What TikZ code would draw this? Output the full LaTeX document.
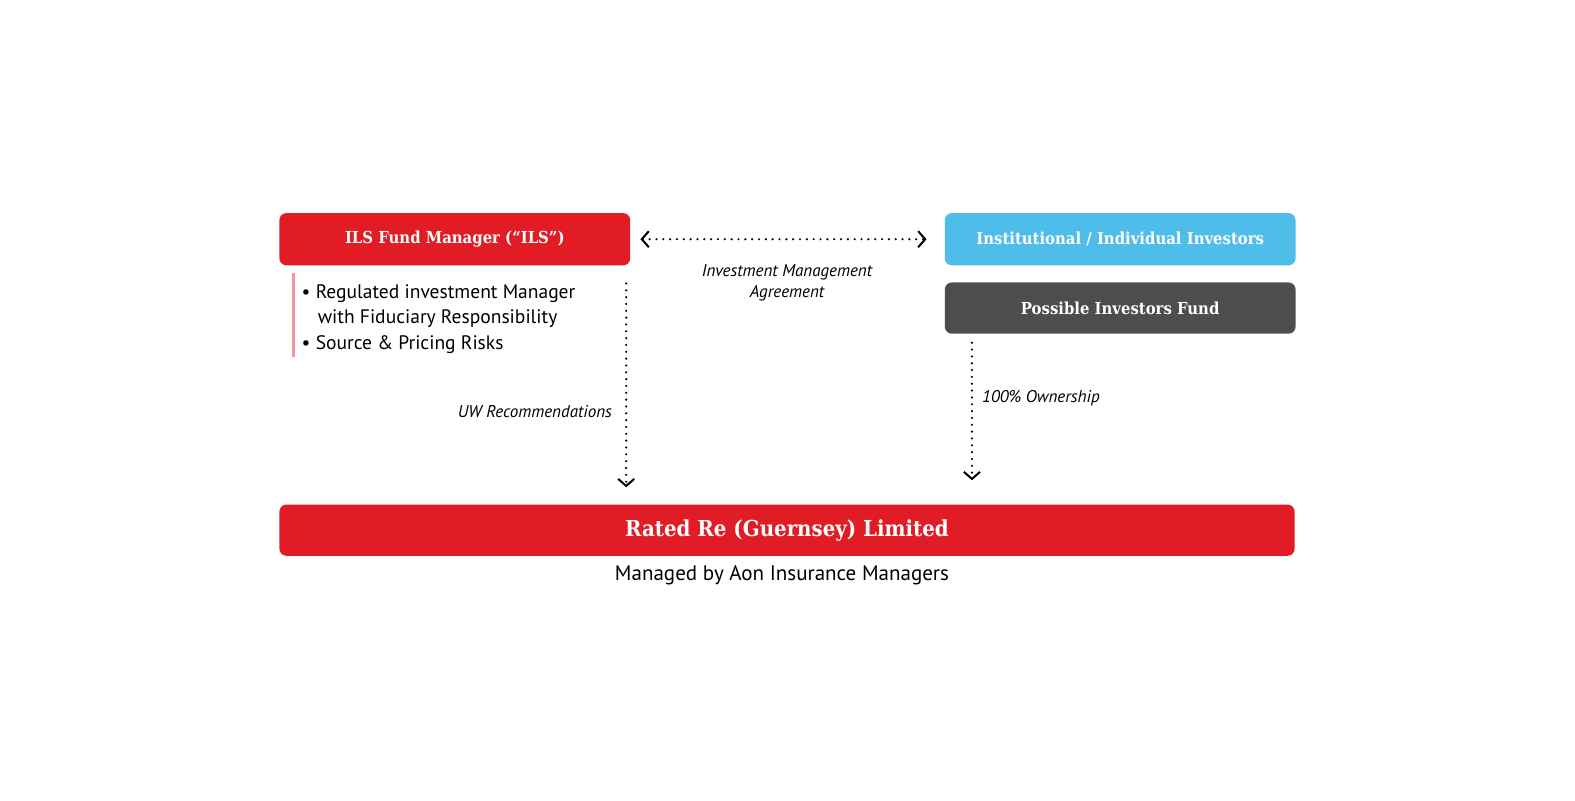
\documentclass[tikz,border=0pt]{standalone}
\usepackage{fontspec}
\setmainfont{PT Sans}
\newfontfamily\slabfont[FakeStretch=0.9]{DejaVu Serif}
\usetikzlibrary{arrows.meta}
\definecolor{ilsred}{HTML}{E21C24}
\definecolor{investblue}{HTML}{4FBDEA}
\definecolor{fundgrey}{HTML}{4D4D4F}
\definecolor{rulepink}{HTML}{EE9A9C}
\tikzset{
  box/.style={rectangle,rounded corners=7bp,inner sep=0pt,text=white,
    font=\slabfont\bfseries\fontsize{16.5}{19}\selectfont},
  barb/.tip={Straight Barb[length=7bp,width=16bp,line width=2bp]},
  dots/.style={line width=2.4bp,line cap=round,dash pattern=on 0pt off 6.8bp},
  lbl/.style={font=\itshape\fontsize{17}{21}\selectfont,inner sep=0pt},
  txt/.style={font=\fontsize{19.5}{25}\selectfont,inner sep=0pt,anchor=base west}
}
\begin{document}
\begin{tikzpicture}[x=1bp,y=-1bp]
  \useasboundingbox[fill=white] (0,0) rectangle (1567,796);
  \node[box,fill=ilsred,minimum width=349bp,minimum height=52bp] (ils) at (452.5,238) {ILS Fund Manager (“ILS”)};
  \node[box,fill=investblue,minimum width=349bp,minimum height=52bp] (inv) at (1114.5,238) {Institutional / Individual Investors};
  \node[box,fill=fundgrey,minimum width=349bp,minimum height=51bp] (fund) at (1114.5,306.5) {Possible Investors Fund};
  \node[box,fill=ilsred,minimum width=1010bp,minimum height=51bp,
    font=\slabfont\bfseries\fontsize{22}{26}\selectfont] (rated) at (783,527.5) {Rated Re (Guernsey) Limited};
  \node[font=\fontsize{21}{24}\selectfont,inner sep=0pt] (aon) at (778,572) {Managed by Aon Insurance Managers};

  % bullet list under the fund manager
  \draw[rulepink,line width=2bp] (292,272) -- (292,355);
  \node[txt] (b1) at (300,296.5) {• Regulated investment Manager};
  \node[txt] (b2) at (316,322) {with Fiduciary Responsibility};
  \node[txt] (b3) at (300,347.5) {• Source \& Pricing Risks};

  % connectors
  \coordinate (uw) at (623,282);
  \coordinate (own) at (967,341);
  \draw[dots,barb-barb,shorten <=10bp,shorten >=18bp] (ils.east) -- (inv.west|-ils.east);
  \draw[dots,-barb,shorten >=17bp] (uw) -- (uw|-rated.north);
  \draw[dots,-barb,shorten >=24bp] (own) -- (own|-rated.north);

  \node[lbl,align=center] (ima) at (783,281) {Investment Management\\Agreement};
  \node[lbl,anchor=east] (uwl) at (609,409) {UW Recommendations};
  \node[lbl,anchor=west] (ownl) at (977,396) {100\% Ownership};
\end{tikzpicture}
\end{document}
